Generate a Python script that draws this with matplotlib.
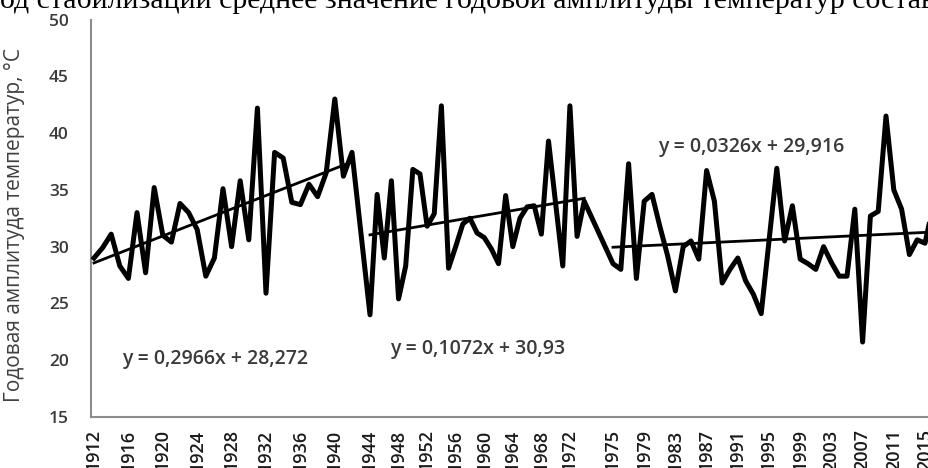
import numpy as np
import matplotlib
matplotlib.use("Agg")
from matplotlib import pyplot as plt

# annual temperature amplitude, three periods
years_1 = list(range(1912, 1943))
amp_1 = [29.0, 29.9, 31.1, 28.3, 27.2, 33.0, 27.7, 35.2, 31.0, 30.4,
         33.8, 33.0, 31.5, 27.4, 29.0, 35.1, 30.0, 35.8, 30.6, 42.2,
         25.9, 38.3, 37.8, 33.9, 33.7, 35.5, 34.4, 36.5, 43.0, 36.2,
         38.3]

years_2 = list(range(1944, 1975))
amp_2 = [24.0, 34.6, 29.0, 35.8, 25.4, 28.3, 36.8, 36.4, 31.8, 32.9,
         42.4, 28.1, 30.0, 32.0, 32.5, 31.2, 30.8, 29.8, 28.5, 34.5,
         30.0, 32.5, 33.5, 33.6, 31.1, 39.3, 33.8, 28.3, 42.4, 30.9,
         34.0]

years_3 = list(range(1975, 2017))
amp_3 = [28.5, 28.0, 37.3, 27.2, 34.0, 34.6, 31.8, 29.2, 26.1, 30.0,
         30.5, 28.9, 36.7, 34.0, 26.8, 28.0, 29.0, 27.0, 25.8, 24.1,
         30.5, 36.9, 30.5, 33.6, 28.9, 28.5, 28.0, 30.0, 28.6, 27.4,
         27.4, 33.3, 21.6, 32.7, 33.1, 41.5, 35.0, 33.3, 29.3, 30.6,
         30.3, 33.5]

# linear trends as printed on the chart (x = index inside each period)
trend_slope = [0.2966, 0.1072, 0.0326]
trend_icept = [28.272, 30.93, 29.916]
trend_text = ["y = 0,2966x + 28,272", "y = 0,1072x + 30,93", "y = 0,0326x + 29,916"]

tick_years = list(range(1912, 1973, 4)) + list(range(1975, 2016, 4))
ylabel = "Годовая амплитуда температур, °C"
top_text = "од стабилизации среднее значение годовой амплитуды температур состав"

# the original chart is glued from three pieces with different year widths,
# so the x axis is piecewise linear in years
anchor_years = [1900, 1912, 1942, 1944, 1974, 1975, 2016, 2030]
anchor_px = [-9.2, 94, 352, 370, 584.2, 613, 932.8, 1042]


def fwd(x):
    return np.interp(x, anchor_years, anchor_px)


def inv(p):
    return np.interp(p, anchor_px, anchor_years)


plt.rcParams['font.family'] = ['Open Sans', 'DejaVu Sans']

fig = plt.figure(figsize=(9.29, 4.68), dpi=100)
ax = fig.add_axes([91 / 929, 51 / 468, 838 / 929, 397.5 / 468])

ax.set_xscale('function', functions=(fwd, inv))

all_years = years_1 + years_2 + years_3
all_amp = amp_1 + amp_2 + amp_3
ax.plot(all_years, all_amp, color='black', lw=3.6, solid_joinstyle='round',
        zorder=3)

for yrs, a, b in zip([years_1, years_2, years_3], trend_slope, trend_icept):
    k = np.arange(1, len(yrs) + 1)
    ax.plot(yrs, a * k + b, color='black', lw=2.0, zorder=2)

eq_style = dict(ha='center', va='center', fontsize=14, fontweight='semibold',
                color='#3a3a3a')
ax.text(1926.1, 20.1, trend_text[0], **eq_style)
ax.text(1959.0, 21.0, trend_text[1], **eq_style)
ax.text(1992.7, 38.8, trend_text[2], **eq_style)

ax.set_xlim(inv(91), inv(929))
ax.set_ylim(15, 50)
ax.set_yticks(range(15, 51, 5))
ax.set_xticks(tick_years, labels=[str(y) for y in tick_years])
ax.tick_params(axis='x', length=0, pad=9, labelrotation=90, labelsize=13,
               labelcolor='#1a1a1a')
ax.tick_params(axis='y', length=0, pad=16, labelsize=12.5, labelcolor='#3a3a3a')
for lab in ax.get_xticklabels() + ax.get_yticklabels():
    lab.set_fontweight('semibold')

for s in ['top', 'right']:
    ax.spines[s].set_visible(False)
for s in ['left', 'bottom']:
    ax.spines[s].set_color('#8c8c8c')
    ax.spines[s].set_linewidth(1.5)

fig.text(15 / 929, 1 - 225 / 468, ylabel, rotation=90, ha='center',
         va='center', fontsize=15, color='#404040')

# caption line of the scanned page, cut by the top edge
fig.text(0.0, 1 - 8 / 468, top_text, ha='left', va='baseline',
         fontsize=21.5, family='Liberation Serif', color='black')

fig.savefig('out.png', dpi=100)
